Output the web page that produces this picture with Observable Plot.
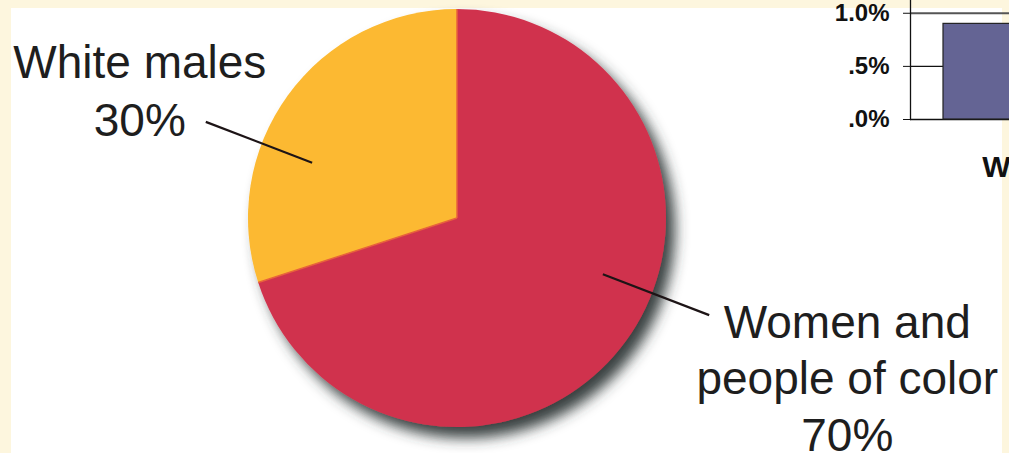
<!DOCTYPE html>
<html>
<head>
<meta charset="utf-8">
<script src="https://cdn.jsdelivr.net/npm/d3@7"></script>
<script src="https://cdn.jsdelivr.net/npm/@observablehq/plot@0.6"></script>
<style>
  html, body { margin: 0; padding: 0; background: #fdf6de; overflow: hidden; }
  #stage { position: relative; width: 1009px; height: 453px; background: #fdf6de; overflow: hidden; }
  #panel { position: absolute; left: 11px; top: 8px; width: 991px; height: 445px; background: #ffffff; }
  #pie { position: absolute; left: 0; top: 0; }
  #bar { position: absolute; left: 820px; top: 0; }
</style>
</head>
<body>
<div id="stage">
  <div id="panel"></div>
  <div id="pie"></div>
  <div id="bar"></div>
</div>
<script>
// ---- Data ----
const categories = ["White males", "Women and people of color"];
const shares = [30, 70];
const shareLabels = ["30%", "70%"];
const sliceColors = ["#fcb930", "#d0334e"];

const barCategories = ["White"];
const barValues = [0.9];
const yTicks = [0, 0.5, 1.0];
const yTickLabels = [".0%", ".5%", "1.0%"];

// ---- Layout (not data) ----
const FONT = "'Liberation Sans', Arial, Helvetica, sans-serif";
const cx = 457, cy = 218, r = 209;
const labelLayout = [
  {x: -1.52, y: (cy - 135) / r, text: `${categories[0]}\n${shareLabels[0]}`, lineHeight: 1.24, angle: 291},
  {x: 1.865, y: (cy - 450) / r, text: `Women and\npeople of color\n${shareLabels[1]}`, lineHeight: 1.22, angle: 111}
];
const leaderInner = 0.745, leaderOuter = 1.29;

const pieData = categories.map((c, i) => ({category: c, share: shares[i], color: sliceColors[i]}));

// custom pie mark rendered with the plot's own x/y scales
function pieMark(index, scales) {
  const x0 = scales.x(0), y0 = scales.y(0);
  const rad = scales.x(1) - scales.x(0);
  const total = d3.sum(pieData, d => d.share);
  const start = -2 * Math.PI * pieData[0].share / total;
  const arcs = d3.pie().sort(null).value(d => d.share)
    .startAngle(start).endAngle(start + 2 * Math.PI)(pieData);
  const arc = d3.arc().innerRadius(0).outerRadius(rad);
  const g = d3.create("svg:g");
  const defs = g.append("defs");
  const f = defs.append("filter").attr("id", "pieShadow")
    .attr("x", "-20%").attr("y", "-20%").attr("width", "150%").attr("height", "150%");
  f.append("feGaussianBlur").attr("in", "SourceAlpha").attr("stdDeviation", 7).attr("result", "b");
  f.append("feOffset").attr("in", "b").attr("dx", 9).attr("dy", 11).attr("result", "o");
  f.append("feFlood").attr("flood-color", "#303838").attr("flood-opacity", 0.95).attr("result", "c");
  f.append("feComposite").attr("in", "c").attr("in2", "o").attr("operator", "in").attr("result", "s");
  const m = f.append("feMerge");
  m.append("feMergeNode").attr("in", "s");
  m.append("feMergeNode").attr("in", "SourceGraphic");
  const pg = g.append("g").attr("transform", `translate(${x0},${y0})`).attr("filter", "url(#pieShadow)");
  pg.selectAll("path").data(arcs).join("path")
    .attr("d", arc)
    .attr("fill", d => d.data.color);
  // thin warm seam between slices
  pg.selectAll("line").data(arcs).join("line")
    .attr("x1", 0).attr("y1", 0)
    .attr("x2", d => rad * Math.sin(d.startAngle))
    .attr("y2", d => -rad * Math.cos(d.startAngle))
    .attr("stroke", "#e8623c").attr("stroke-width", 1.5);
  return g.node();
}

const leaders = labelLayout.map(l => {
  const a = l.angle * Math.PI / 180;
  return {
    x1: leaderInner * Math.sin(a), y1: leaderInner * Math.cos(a),
    x2: leaderOuter * Math.sin(a), y2: leaderOuter * Math.cos(a)
  };
});

const piePlot = Plot.plot({
  width: 1009,
  height: 453,
  margin: 0,
  style: `background: transparent; max-width: none; overflow: visible; font-family: ${FONT};`,
  x: {domain: [-1, 1], range: [cx - r, cx + r], axis: null},
  y: {domain: [-1, 1], range: [cy + r, cy - r], axis: null},
  marks: [
    pieMark,
    Plot.link(leaders, {x1: "x1", y1: "y1", x2: "x2", y2: "y2", stroke: "#1d1416", strokeWidth: 2.2}),
    ...labelLayout.map(l => Plot.text([l.text], {
      x: () => l.x, y: () => l.y, text: d => d,
      fontSize: 46, fill: "#1e1e1e", textAnchor: "middle",
      lineAnchor: "bottom", lineHeight: l.lineHeight, fontFamily: FONT
    }))
  ]
});
document.getElementById("pie").appendChild(piePlot);

// ---- Bar fragment ----
const barData = barCategories.map((c, i) => ({category: c, value: barValues[i]}));
const barPlot = Plot.plot({
  width: 189,
  height: 200,
  marginLeft: 90,
  marginRight: 0,
  marginTop: 0,
  marginBottom: 81,
  style: `background: transparent; max-width: none; overflow: hidden; font-family: ${FONT}; color: #111;`,
  x: {domain: barCategories, range: [90, 316], padding: 0.171, label: null},
  y: {domain: [0, 1.12], label: null},
  marks: [
    Plot.ruleY(yTicks.filter(t => t < 1), {stroke: "#111", strokeWidth: 1.3}),
    Plot.ruleY(yTicks.filter(t => t >= 1), {stroke: "#555", strokeWidth: 2}),
    Plot.barY(barData, {x: "category", y: "value", fill: "#646494", stroke: "#222", strokeWidth: 1.2}),
    Plot.frame({anchor: "left", stroke: "#111", strokeWidth: 1.3}),
    Plot.axisY({ticks: yTicks, tickFormat: d => yTickLabels[yTicks.indexOf(d)], tickSize: 7, tickPadding: 14,
      fontSize: 24, fontWeight: "bold", label: null, stroke: "#111"}),
    Plot.axisX({tickSize: 0, tickPadding: 36, fontSize: 30, fontWeight: "bold", label: null})
  ]
});
document.getElementById("bar").appendChild(barPlot);
</script>
</body>
</html>
